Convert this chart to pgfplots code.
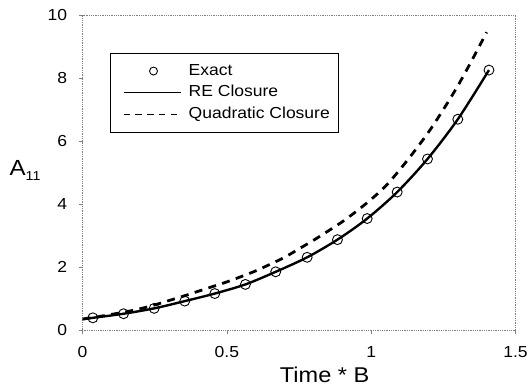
\documentclass[border=0pt]{standalone}
\usepackage{fontspec}
\setmainfont{Liberation Sans}[FakeStretch=1.1]
\usepackage{pgfplots}
\pgfplotsset{compat=1.18}
\usetikzlibrary{calc}

\begin{document}
\begin{tikzpicture}
\begin{axis}[
  scale only axis,
  width=435bp, height=316.7bp,
  xmin=0, xmax=1.5, ymin=0, ymax=10,
  xtick={0,0.5,1,1.5}, ytick={0,2,4,6,8,10},
  xticklabels={0,0.5,1,1.5},
  /pgf/number format/assume math mode=true,
  ticklabel style={font=\fontsize{16bp}{18bp}\selectfont},
  xticklabel style={yshift=-9bp},
  yticklabel style={xshift=-8bp},
  axis line style={draw=gray, densely dotted, line width=0.8bp},
  tick style={draw=gray, line width=0.6bp},
  tick align=outside, major tick length=4bp,
  xtick pos=bottom, ytick pos=left,
  xlabel={Time * B},
  xlabel style={font=\fontsize{21.5bp}{24bp}\selectfont,
    at={(axis description cs:0.559,-0.1415)}, anchor=center},
  ylabel={A\raisebox{-0.45ex}{\fontsize{13bp}{14bp}\selectfont 11}},
  ylabel style={font=\fontsize{22bp}{24bp}\selectfont, rotate=-90,
    at={(axis description cs:-0.133,0.507)}, anchor=center},
  legend cell align=left,
  legend image code/.code={%
    \path[draw=none] (0bp,0bp) -- (62bp,0bp);
    \draw[#1, line width=1.3bp] (4bp,0bp) -- (62bp,0bp);},
  legend style={
    at={(rel axis cs:0.064,0.88)}, anchor=north west,
    draw=black, line width=0.8bp, solid,
    inner xsep=9bp, inner ysep=11bp,
    font=\fontsize{16bp}{18bp}\selectfont,
    nodes={inner sep=0pt, text height=11bp, text depth=3bp},
    row sep=7.7bp,
  },
  legend style={/tikz/every odd column/.append style={column sep=6.7bp}},
]

% Exact solution
\addplot[only marks, mark=o, mark size=5bp, mark options={line width=0.9bp, black},
  legend image code/.code={%
    \path[draw=none] (0bp,0bp) -- (62bp,0bp);
    \draw[black, solid, line width=0.9bp] (34bp,0bp) circle[radius=4bp];}]
  coordinates {
  (0.0355,0.39) (0.142,0.52) (0.248,0.69) (0.354,0.92) (0.458,1.16)
  (0.564,1.45) (0.669,1.85) (0.778,2.31) (0.883,2.87) (0.986,3.54)
  (1.090,4.38) (1.195,5.43) (1.300,6.69) (1.408,8.25)
  };
\addlegendentry{Exact}

% RE closure
\addplot[black, line width=2.4bp, smooth, no marks]
  coordinates {
  (0,0.35) (0.0355,0.39) (0.142,0.52) (0.248,0.69) (0.354,0.92) (0.458,1.16)
  (0.564,1.45) (0.669,1.85) (0.778,2.31) (0.883,2.87) (0.986,3.54)
  (1.090,4.38) (1.195,5.43) (1.300,6.69) (1.408,8.25)
  };
\addlegendentry{RE Closure}

% Quadratic closure
\addplot[black, line width=2.8bp, dash pattern=on 8bp off 6.5bp, smooth, no marks,
  legend image code/.code={%
    \path[draw=none] (0bp,0bp) -- (62bp,0bp);
    \draw[black, line width=1.3bp, dash pattern=on 6.5bp off 5.3bp]
      (4bp,0bp) -- (62bp,0bp);}]
  coordinates {
  (0,0.35) (0.05,0.42) (0.10,0.50) (0.15,0.58) (0.20,0.68) (0.25,0.80)
  (0.30,0.94) (0.35,1.08) (0.40,1.23) (0.45,1.38) (0.50,1.53) (0.55,1.70)
  (0.60,1.88) (0.65,2.09) (0.70,2.31) (0.75,2.58) (0.80,2.85) (0.85,3.14)
  (0.90,3.44) (0.95,3.78) (1.00,4.15) (1.05,4.57) (1.10,5.10) (1.15,5.68)
  (1.20,6.30) (1.25,7.00) (1.30,7.75) (1.35,8.58) (1.40,9.45)
  };
\addlegendentry{Quadratic Closure}

\end{axis}
\path[use as bounding box] ($(current axis.south west)+(-83bp,-60.3bp)$)
  rectangle ++(531bp,392bp);
\end{tikzpicture}
\end{document}
